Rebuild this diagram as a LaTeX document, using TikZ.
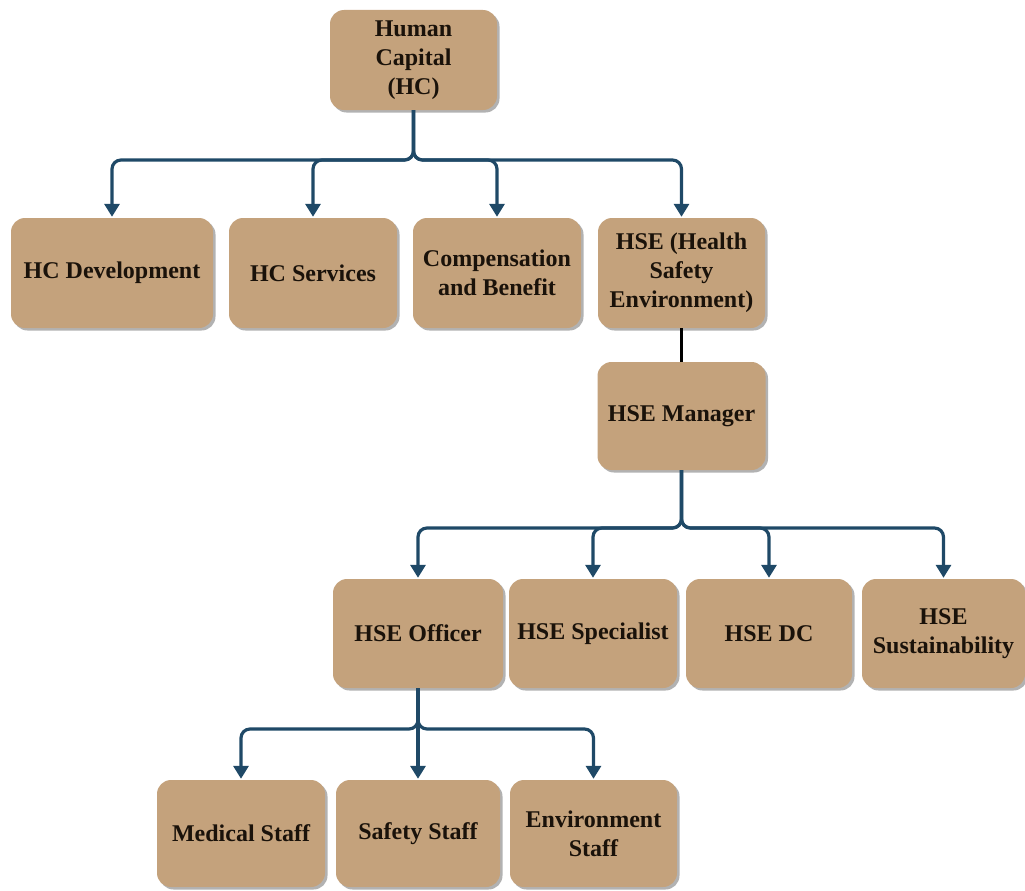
\documentclass[tikz,border=0pt]{standalone}
\usepackage{fontspec}
\setmainfont{Liberation Serif}
\usetikzlibrary{arrows.meta,shadows}
\definecolor{boxfill}{HTML}{C4A27C}
\definecolor{connblue}{HTML}{1F4967}
\definecolor{boxtext}{HTML}{1A120A}
\tikzset{
  orgbox/.style={draw=none, fill=boxfill, rounded corners=14pt, align=center,
    text=boxtext, font=\bfseries\fontsize{24}{29}\selectfont, inner sep=2pt,
    drop shadow={shadow xshift=2.5pt, shadow yshift=-2.5pt, fill=black, opacity=0.3}},
  conn/.style={draw=connblue, line width=3.2pt, rounded corners=9pt,
    -{Triangle[length=13pt,width=15pt]}, shorten >=1pt},
  plainconn/.style={draw=black, line width=2.6pt}
}
\begin{document}
\begin{tikzpicture}[x=1pt,y=-1pt]
\useasboundingbox (0,0) rectangle (1025,891);
% nodes
\node[orgbox, minimum width=167pt, minimum height=100pt] (hc) at (413.5,60) {Human\\Capital\\(HC)};
\node[orgbox, minimum width=202pt, minimum height=110pt] (dev) at (112,273) {HC Development};
\node[orgbox, minimum width=168pt, minimum height=110pt] (srv) at (313,273) {HC Services};
\node[orgbox, minimum width=168pt, minimum height=110pt] (comp) at (497,273) {Compensation\\and Benefit};
\node[orgbox, minimum width=167pt, minimum height=110pt] (hse) at (681.5,273) {HSE (Health\\Safety\\Environment)};
\node[orgbox, minimum width=168pt, minimum height=108pt] (mgr) at (681.5,416) {HSE Manager};
\node[orgbox, minimum width=170pt, minimum height=109pt] (off) at (418,633.5) {HSE Officer};
\node[orgbox, minimum width=168pt, minimum height=109pt] (spec) at (593,633.5) {HSE Specialist};
\node[orgbox, minimum width=166pt, minimum height=109pt] (dc) at (769,633.5) {HSE DC};
\node[orgbox, minimum width=163pt, minimum height=109pt] (sust) at (943.5,633.5) {HSE\\Sustainability};
\node[orgbox, minimum width=168pt, minimum height=107pt] (med) at (241,833.5) {Medical Staff};
\node[orgbox, minimum width=164pt, minimum height=107pt] (saf) at (418,833.5) {Safety Staff};
\node[orgbox, minimum width=167pt, minimum height=107pt] (env) at (593.5,833.5) {Environment\\Staff};
% bus coordinates
\coordinate (b1) at (413.5,160);
\coordinate (b2) at (681.5,528);
\coordinate (b3) at (418,729);
% connectors level 1
\draw[conn] (hc.south) -- (b1) -| (dev.north);
\draw[conn] (hc.south) -- (b1) -| (srv.north);
\draw[conn] (hc.south) -- (b1) -| (comp.north);
\draw[conn] (hc.south) -- (b1) -| (hse.north);
% HSE to manager
\draw[plainconn] (hse.south) -- (mgr.north);
% connectors level 2
\draw[conn] (mgr.south) -- (b2) -| (off.north);
\draw[conn] (mgr.south) -- (b2) -| (spec.north);
\draw[conn] (mgr.south) -- (b2) -| (dc.north);
\draw[conn] (mgr.south) -- (b2) -| (sust.north);
% connectors level 3
\draw[conn] (off.south) -- (b3) -| (med.north);
\draw[conn] (off.south) -- (saf.north);
\draw[conn] (off.south) -- (b3) -| (env.north);
\end{tikzpicture}
\end{document}
